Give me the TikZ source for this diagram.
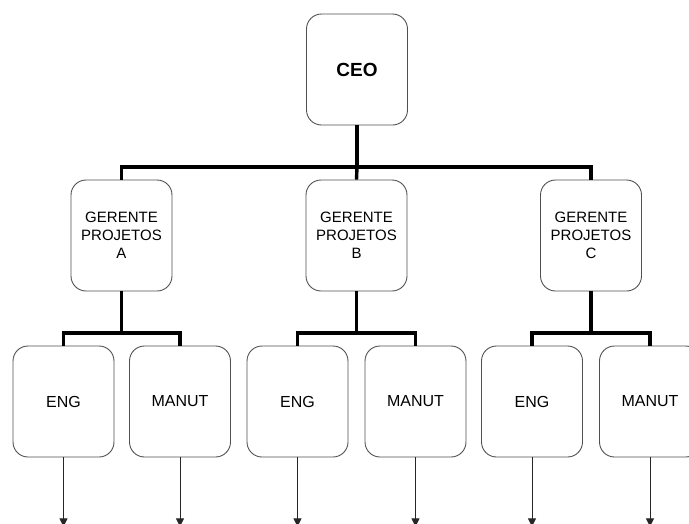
\documentclass[tikz,border=0pt]{standalone}
\usepackage{fontspec}
\setmainfont{Liberation Sans}
\usetikzlibrary{arrows.meta}
\definecolor{boxline}{HTML}{505050}
\begin{document}
\begin{tikzpicture}[x=1pt,y=-1pt,
  orgbox/.style={draw=boxline, line width=0.9pt, rounded corners=15pt,
    minimum width=101pt, minimum height=111pt, inner sep=0pt, align=center,
    font=\fontsize{15}{18}\selectfont},
  bus/.style={line width=3.4pt, line join=miter},
  feed/.style={draw=black!85, line width=1pt, -{Triangle[length=8pt,width=8pt]}}]
  \useasboundingbox (0,0) rectangle (689,523);
  \clip (0,0) rectangle (689,523);

  % top level
  \node[orgbox, font=\fontsize{19}{22}\selectfont\bfseries] (ceo) at (357,69.5) {CEO};

  % project managers
  \node[orgbox] (ga) at (121.5,235.5) {GERENTE\\PROJETOS\\A};
  \node[orgbox] (gb) at (356.5,235.5) {GERENTE\\PROJETOS\\B};
  \node[orgbox] (gc) at (591,235.5) {GERENTE\\PROJETOS\\C};

  % departments
  \node[orgbox, font=\fontsize{16}{19}\selectfont] (ea) at (63.5,401.5) {ENG};
  \node[orgbox, font=\fontsize{16}{19}\selectfont] (ma) at (180,401.5) {MANUT};
  \node[orgbox, font=\fontsize{16}{19}\selectfont] (eb) at (297.5,401.5) {ENG};
  \node[orgbox, font=\fontsize{16}{19}\selectfont] (mb) at (415.5,401.5) {MANUT};
  \node[orgbox, font=\fontsize{16}{19}\selectfont] (ec) at (532,401.5) {ENG};
  \node[orgbox, font=\fontsize{16}{19}\selectfont] (mc) at (650,401.5) {MANUT};

  % bus junctions
  \coordinate (jt) at (357,167);
  \coordinate (ja) at (121.5,333);
  \coordinate (jb) at (356.5,333);
  \coordinate (jc) at (591,333);

  % CEO to managers
  \draw[bus] (ceo.south) -- (jt);
  \draw[bus] (ga.north) |- (jt) -| (gc.north);
  \draw[bus] (jt) -- (gb.north);

  % managers to departments
  \draw[bus] (ga.south) -- (ja);
  \draw[bus] (ea.north) |- (ja) -| (ma.north);
  \draw[bus] (gb.south) -- (jb);
  \draw[bus] (eb.north) |- (jb) -| (mb.north);
  \draw[bus] (gc.south) -- (jc);
  \draw[bus] (ec.north) |- (jc) -| (mc.north);

  % outgoing links below departments
  \foreach \n in {ea,ma,eb,mb,ec,mc} {
    \coordinate (\n-out) at ([yshift=-69pt]\n.south);
    \draw[feed] (\n.south) -- (\n-out);
  }
\end{tikzpicture}
\end{document}
